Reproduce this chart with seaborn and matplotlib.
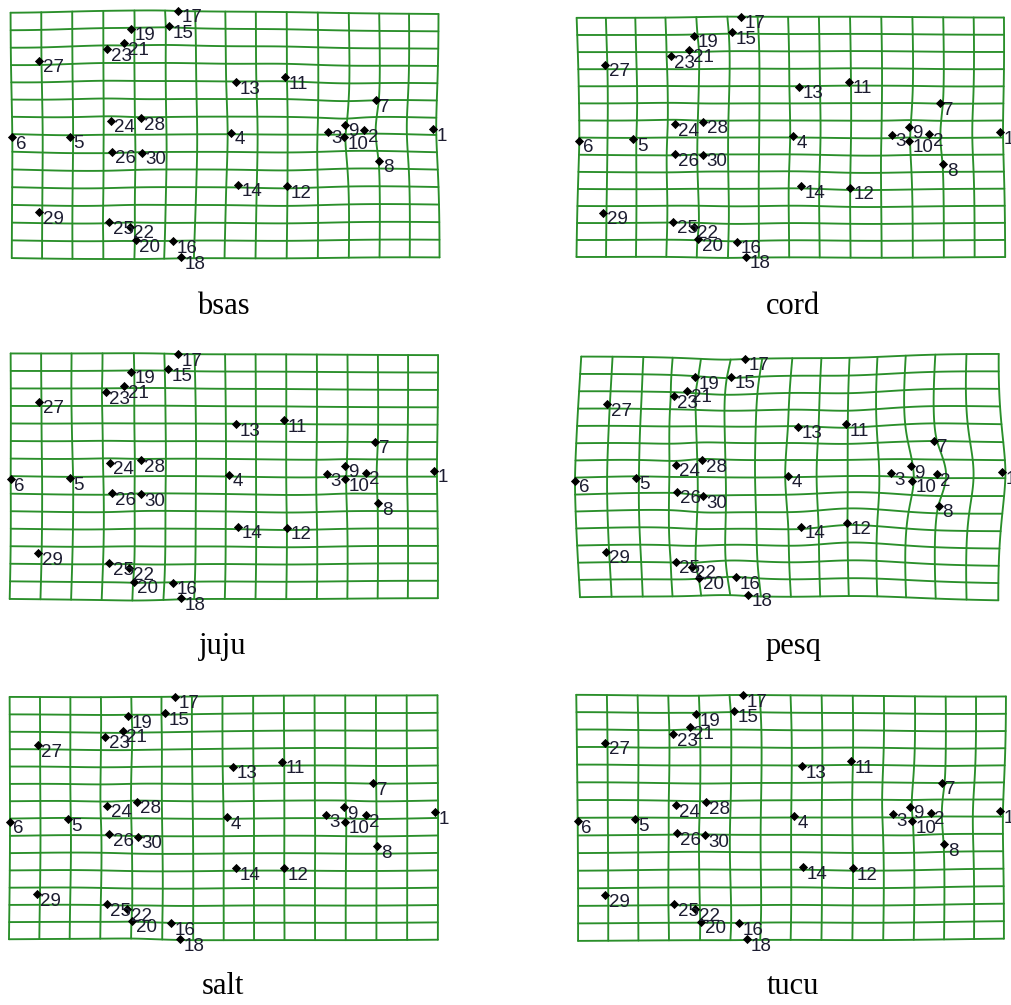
import numpy as np
import pandas as pd
import matplotlib
matplotlib.use("Agg")
import matplotlib.pyplot as plt
import seaborn as sns

# Landmark configurations (x, y; y grows downward), landmarks 1..30
landmark_ids = list(range(1, 31))

bsas = [(433.3, 129.3), (364.3, 130.0), (327.7, 131.7), (230.7, 132.7), (70.0, 136.7),
        (12.3, 137.3), (376.0, 100.0), (379.3, 160.7), (345.0, 125.0), (344.3, 137.3),
        (285.0, 77.3), (287.3, 186.0), (236.0, 82.0), (238.3, 185.0), (169.3, 26.0),
        (172.7, 241.3), (178.3, 11.0), (181.0, 257.3), (131.0, 29.0), (135.7, 240.0),
        (124.3, 43.3), (130.0, 226.7), (107.3, 49.3), (110.7, 120.7), (109.0, 222.3),
        (111.7, 151.7), (39.0, 60.7), (140.7, 118.3), (39.0, 212.3), (141.7, 152.7)]

cord = [(430.0, 132.0), (359.0, 134.0), (321.7, 135.0), (223.3, 136.0), (63.3, 139.3),
        (9.3, 140.7), (370.0, 103.3), (373.3, 164.3), (339.0, 126.7), (339.0, 140.7),
        (279.0, 81.7), (280.0, 187.7), (229.3, 86.7), (230.7, 186.0), (162.3, 32.3),
        (166.7, 241.7), (170.7, 16.7), (175.7, 256.7), (124.0, 35.7), (128.3, 239.3),
        (119.0, 50.0), (124.0, 226.7), (100.7, 56.0), (104.7, 124.0), (103.3, 221.7),
        (104.7, 154.0), (35.0, 65.0), (133.3, 121.7), (33.3, 212.7), (133.3, 155.0)]

juju = [(434.0, 131.0), (365.7, 132.7), (326.7, 134.0), (229.0, 135.0), (70.0, 138.3),
        (10.7, 139.3), (375.0, 101.7), (378.3, 163.3), (345.0, 125.7), (345.0, 139.3),
        (284.3, 80.0), (286.7, 187.7), (235.7, 84.3), (237.7, 186.7), (168.3, 29.3),
        (172.7, 242.7), (177.7, 14.0), (181.0, 258.3), (130.7, 31.7), (134.0, 241.7),
        (124.3, 46.0), (129.3, 228.3), (106.0, 52.3), (110.0, 122.7), (109.0, 223.3),
        (111.7, 153.3), (39.0, 61.7), (140.7, 120.0), (38.3, 213.3), (140.7, 154.0)]

pesq = [(432.3, 132.3), (366.7, 134.0), (320.7, 133.3), (218.3, 135.7), (65.7, 137.7),
        (5.0, 140.7), (364.0, 100.7), (369.0, 165.7), (340.7, 126.0), (342.3, 140.7),
        (276.0, 84.0), (277.3, 182.7), (228.3, 86.7), (230.7, 186.7), (160.7, 36.7),
        (165.7, 237.3), (175.0, 19.0), (177.7, 255.0), (125.0, 37.3), (129.3, 237.7),
        (117.3, 50.7), (121.7, 226.7), (104.0, 56.0), (106.0, 125.0), (105.7, 221.7),
        (106.7, 151.7), (37.3, 64.3), (132.3, 120.0), (35.7, 211.7), (133.3, 156.0)]

salt = [(435.0, 132.3), (365.7, 135.0), (325.7, 135.0), (226.7, 137.3), (67.7, 139.3),
        (10.0, 141.7), (373.3, 103.3), (377.3, 166.0), (344.0, 127.3), (345.0, 141.7),
        (282.3, 81.7), (284.0, 188.3), (232.7, 86.7), (235.7, 188.3), (165.0, 33.3),
        (170.7, 243.3), (175.0, 16.7), (180.0, 259.0), (128.3, 36.0), (132.3, 240.7),
        (122.7, 50.7), (127.3, 229.3), (105.0, 56.7), (107.3, 125.7), (106.7, 224.3),
        (109.3, 154.0), (37.7, 65.0), (136.7, 121.7), (36.7, 214.3), (137.7, 156.7)]

tucu = [(430.0, 131.0), (360.7, 132.7), (322.7, 134.3), (224.3, 136.0), (65.0, 139.0),
        (7.7, 141.0), (371.7, 102.7), (374.3, 164.0), (340.0, 126.7), (341.7, 141.0),
        (281.0, 81.0), (282.7, 188.3), (231.7, 86.0), (233.3, 187.3), (164.3, 30.7),
        (169.3, 243.3), (172.7, 15.0), (177.3, 259.0), (126.0, 34.0), (131.0, 241.7),
        (120.0, 47.3), (125.0, 229.3), (103.3, 54.0), (105.7, 125.0), (104.3, 224.3),
        (106.7, 153.3), (35.0, 62.7), (135.7, 122.3), (35.0, 215.0), (135.0, 155.0)]

groups = ["bsas", "cord", "juju", "pesq", "salt", "tucu"]
configs = [bsas, cord, juju, pesq, salt, tucu]


def tps_kernel(r):
    with np.errstate(divide="ignore", invalid="ignore"):
        k = r ** 2 * np.log(r ** 2)
    return np.nan_to_num(k)


def tps_map(src, dst, pts):
    """Thin-plate spline taking src landmarks onto dst, applied to pts."""
    n = len(src)
    K = tps_kernel(np.linalg.norm(src[:, None, :] - src[None, :, :], axis=2))
    P = np.hstack([np.ones((n, 1)), src])
    L = np.zeros((n + 3, n + 3))
    L[:n, :n] = K
    L[:n, n:] = P
    L[n:, :n] = P.T
    rhs = np.vstack([dst, np.zeros((3, 2))])
    coef = np.linalg.solve(L, rhs)
    W, A = coef[:n], coef[n:]
    U = tps_kernel(np.linalg.norm(pts[:, None, :] - src[None, :, :], axis=2))
    return U @ W + np.hstack([np.ones((len(pts), 1)), pts]) @ A


# consensus (mean) shape used as the reference for the deformation grids
arrays = [np.array(c, dtype=float) for c in configs]
reference = np.mean(arrays, axis=0)

n_lines = 15
gx = np.linspace(reference[:, 0].min(), reference[:, 0].max() + 3, n_lines)
gy = np.linspace(reference[:, 1].min(), reference[:, 1].max() + 1, n_lines)
fine_x = np.linspace(gx[0], gx[-1], 120)
fine_y = np.linspace(gy[0], gy[-1], 120)

grid_pts, grid_line = [], []
for i, y0 in enumerate(gy):
    grid_pts.append(np.column_stack([fine_x, np.full_like(fine_x, y0)]))
    grid_line += [f"h{i}"] * len(fine_x)
for j, x0 in enumerate(gx):
    grid_pts.append(np.column_stack([np.full_like(fine_y, x0), fine_y]))
    grid_line += [f"v{j}"] * len(fine_y)
grid_pts = np.vstack(grid_pts)

sns.set_theme(style="white")
plt.rcParams["font.family"] = ["Liberation Sans", "DejaVu Sans"]

W_PX, H_PX = 1011, 1005
fig = plt.figure(figsize=(W_PX / 100, H_PX / 100), dpi=100)
fig.patch.set_facecolor("white")

panel_w, panel_h = 441, 270
origins = [(0, 0), (570, 0), (0, 340), (570, 340), (0, 680), (570, 680)]
title_baseline = [314, 314, 654, 654, 994, 994]

grid_color = "#2a8f2a"
label_color = "#1c1c30"

for name, arr, (ox, oy), tb in zip(groups, arrays, origins, title_baseline):
    ax = fig.add_axes([ox / W_PX, 1 - (oy + panel_h) / H_PX, panel_w / W_PX, panel_h / H_PX])
    warped = tps_map(reference, arr, grid_pts)
    gdf = pd.DataFrame({"x": warped[:, 0], "y": warped[:, 1], "line": grid_line})
    sns.lineplot(data=gdf, x="x", y="y", units="line", estimator=None, sort=False,
                 color=grid_color, linewidth=1.35, legend=False, ax=ax)
    ldf = pd.DataFrame({"x": arr[:, 0], "y": arr[:, 1], "id": landmark_ids})
    sns.scatterplot(data=ldf, x="x", y="y", marker="D", s=22, color="black",
                    linewidth=0, legend=False, ax=ax, zorder=4)
    for _, r in ldf.iterrows():
        ax.text(r["x"] + 3.5, r["y"] + 11.5, str(int(r["id"])), fontsize=13.5,
                color=label_color, ha="left", va="baseline", zorder=5, clip_on=False)
    ax.set_xlim(0, panel_w)
    ax.set_ylim(panel_h, 0)
    ax.axis("off")
    fig.text((ox + 223) / W_PX, 1 - tb / H_PX, name, ha="center", va="baseline",
             fontsize=22, family=["Liberation Serif", "DejaVu Serif"], color="black")

fig.savefig("out.png", dpi=100, facecolor="white")
